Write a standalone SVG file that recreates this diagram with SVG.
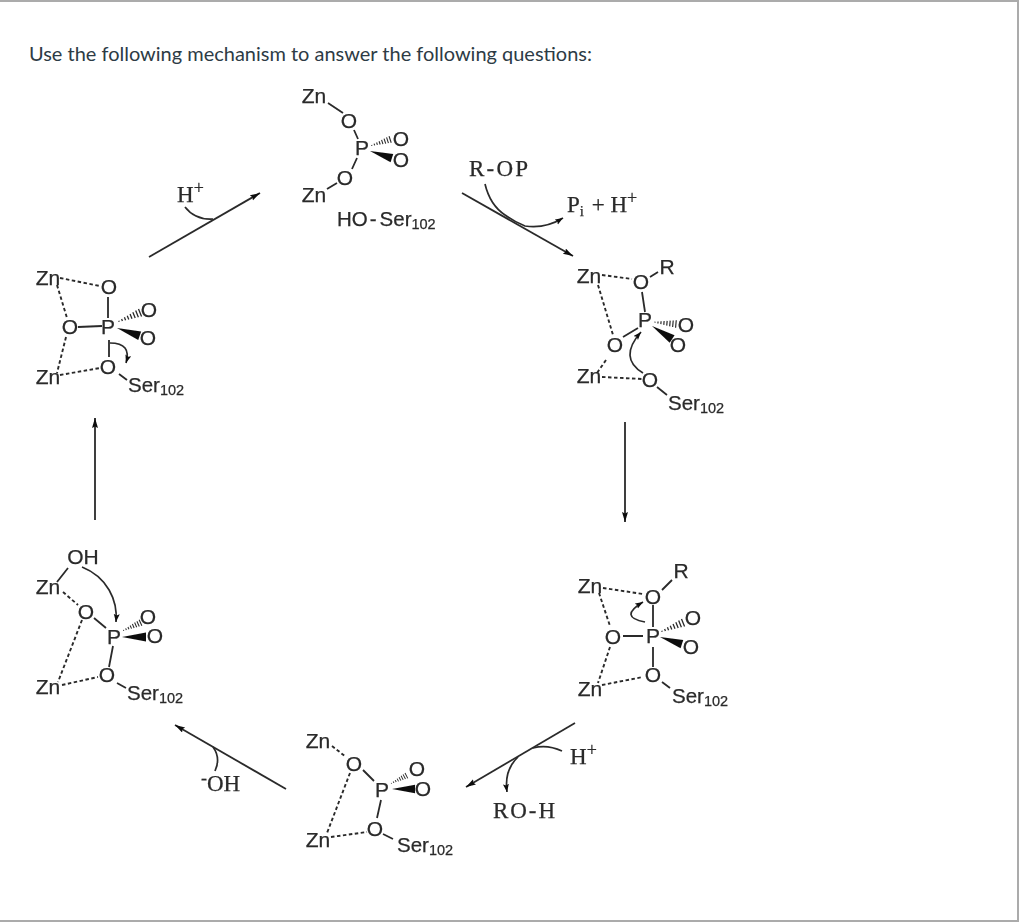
<svg xmlns="http://www.w3.org/2000/svg" width="1024" height="923" viewBox="0 0 1024 923">
<style>
.a{font:21px "Liberation Sans",Arial,sans-serif;fill:#2a2a2a;stroke:#2a2a2a;stroke-width:.25;text-anchor:middle}
.s{font:20.500px "Liberation Sans",Arial,sans-serif;fill:#2a2a2a;stroke:#2a2a2a;stroke-width:.25}
.s tspan.n{font-size:14.500px}
.r{font:23px "Liberation Serif","Times New Roman",serif;fill:#2a2a2a;stroke:#2a2a2a;stroke-width:.25}
.r tspan.u{font-size:18px}
.b{stroke:#2a2a2a;stroke-width:1.8;fill:none}
.d{stroke:#2a2a2a;stroke-width:1.9;fill:none;stroke-dasharray:3.5 2.5}
.c{stroke:#2a2a2a;stroke-width:1.7;fill:none}
.ca{stroke:#2a2a2a;stroke-width:1.7;fill:none;marker-end:url(#ch)}
.ar{stroke:#2a2a2a;stroke-width:1.8;fill:none;marker-end:url(#ah)}
.t{font:20px Lato,"Liberation Sans",sans-serif;fill:#2d3b45}
.soft{filter:url(#soft)}
</style>
<defs>
<filter id="soft" x="-5%" y="-5%" width="110%" height="110%"><feGaussianBlur stdDeviation="0.45"/></filter>
<marker id="ah" markerUnits="userSpaceOnUse" markerWidth="12" markerHeight="8" refX="10" refY="3" orient="auto"><path d="M0,0L10,3L0,6L1.500,3Z" fill="#111"/></marker>
<marker id="ch" markerUnits="userSpaceOnUse" markerWidth="10" markerHeight="8" refX="8" refY="3" orient="auto"><path d="M0,0L8,3L0,6L1.500,3Z" fill="#111"/></marker>
<g id="hash" stroke="#2a2a2a" stroke-width="1.200"><path d="M2,-.5V.5M5,-1V1M8,-1.400V1.400M11,-1.900V1.900M14,-2.400V2.400M17,-2.900V2.900M20,-3.300V3.300M23,-3.800V3.800"/></g>
<polygon id="wedge" points="0,0 24,-4.500 24,4.500" fill="#111"/>
</defs>
<rect width="1024" height="923" fill="#fff"/>
<path d="M0,1H1018V921H0" fill="none" stroke="#ababab" stroke-width="2"/>
<text class="t" x="29" y="61" textLength="563" lengthAdjust="spacingAndGlyphs">Use the following mechanism to answer the following questions:</text>

<g id="connectors" class="soft">
<path class="ar" d="M149,257L260,193"/>
<path class="c" d="M185,207Q195,220 213,219"/>
<path class="ar" d="M462,193L573,256"/>
<path class="ca" d="M485,184Q490,205 505,215Q515,222 525,226Q545,229 563,218"/>
<path class="ar" d="M625,422V522"/>
<path class="ar" d="M575,723L466,787"/>
<path class="c" d="M562,751Q547,744 533,748"/>
<path class="ca" d="M518,757Q504,770 507,792"/>
<path class="ar" d="M286,789L175,725"/>
<path class="c" d="M213,747Q221,758 215,771"/>
<path class="ar" d="M95,520V418"/>
</g>

<g id="reagent-h-plus-1" class="soft"><text class="r" x="177" y="202">H<tspan class="u" dy="-8">+</tspan></text></g>
<g id="reagent-r-op" class="soft"><text class="r" x="469" y="176" textLength="59">R-OP</text></g>
<g id="product-pi-h" class="soft"><text class="r" x="567" y="212">P<tspan dy="4" style="font-size:15px">i</tspan><tspan dy="-4" dx="2"> + H</tspan><tspan class="u" dy="-8">+</tspan></text></g>
<g id="reagent-h-plus-2" class="soft"><text class="r" x="570" y="764">H<tspan class="u" dy="-8">+</tspan></text></g>
<g id="product-ro-h" class="soft"><text class="r" x="493" y="818" textLength="62">RO-H</text></g>
<g id="reagent-oh" class="soft"><text class="r" x="201" y="791"><tspan class="u" dy="-7">-</tspan><tspan dy="7">OH</tspan></text></g>

<g id="mol-top" class="soft">
<path class="b" d="M328,103L343,113M354,130L358,139M357,158L352,169M337,183L327,189"/>
<use href="#hash" transform="translate(370,146) rotate(-18) scale(.92)"/>
<use href="#wedge" transform="translate(370,151) rotate(18) scale(.96)"/>
<text class="a" x="314" y="103">Zn</text><text class="a" x="349" y="128">O</text><text class="a" x="362" y="155">P</text>
<text class="a" x="401" y="146">O</text><text class="a" x="401" y="167">O</text><text class="a" x="345" y="185">O</text>
<text class="a" x="314" y="202">Zn</text>
<text class="s" x="337" y="226">HO<tspan dx="2">-</tspan><tspan dx="3">Ser</tspan><tspan class="n" dy="3">102</tspan></text>
</g>

<g id="mol-left-upper" class="soft">
<path class="d" d="M60,278L100,286M57,285L67,318M66,337L57,373M60,375L100,368"/>
<path class="b" d="M108,297V318M78,327L102,326M109,340V357M119,374L127,380"/>
<use href="#hash" transform="translate(117,322) rotate(-22) scale(1.08)"/>
<use href="#wedge" transform="translate(117,328) rotate(19)"/>
<path class="ca" d="M110,343Q132,343 126,363"/>
<text class="a" x="48" y="285">Zn</text><text class="a" x="109" y="294">O</text><text class="a" x="70" y="334">O</text>
<text class="a" x="108" y="334">P</text><text class="a" x="149" y="317">O</text><text class="a" x="148" y="345">O</text>
<text class="a" x="108" y="374">O</text><text class="a" x="48" y="384">Zn</text>
<text class="s" x="128" y="392">Ser<tspan class="n" dy="3">102</tspan></text>
</g>

<g id="mol-right-upper" class="soft">
<path class="d" d="M602,275L632,279M598,285L613,335M606,360L597,373M602,377L642,379"/>
<path class="b" d="M642,292L645,312M623,337L638,328M650,277L658,272M657,387L667,395"/>
<use href="#hash" transform="translate(653,322) rotate(5)"/>
<use href="#wedge" transform="translate(652,326) rotate(33)"/>
<path class="ca" d="M643,373Q618,358 641,332"/>
<text class="a" x="589" y="283">Zn</text><text class="a" x="641" y="289">O</text><text class="a" x="667" y="274">R</text>
<text class="a" x="645" y="327">P</text><text class="a" x="686" y="332">O</text><text class="a" x="678" y="352">O</text>
<text class="a" x="615" y="352">O</text><text class="a" x="589" y="383">Zn</text><text class="a" x="650" y="387">O</text>
<text class="s" x="668" y="410">Ser<tspan class="n" dy="3">102</tspan></text>
</g>

<g id="mol-right-lower" class="soft">
<path class="d" d="M603,588L643,594M599,593L610,626M610,647L598,683M602,685L643,677"/>
<path class="b" d="M662,590L672,580M653,605V627M623,636H643M653,647V667M662,682L670,688"/>
<use href="#hash" transform="translate(660,632) rotate(-22) scale(1.08)"/>
<use href="#wedge" transform="translate(660,637) rotate(18) scale(.96)"/>
<path class="ca" d="M645,622Q618,617 643,602"/>
<text class="a" x="590" y="593">Zn</text><text class="a" x="653" y="604">O</text><text class="a" x="681" y="578">R</text>
<text class="a" x="613" y="644">O</text><text class="a" x="653" y="643">P</text><text class="a" x="693" y="625">O</text>
<text class="a" x="691" y="654">O</text><text class="a" x="653" y="682">O</text><text class="a" x="590" y="696">Zn</text>
<text class="s" x="672" y="703">Ser<tspan class="n" dy="3">102</tspan></text>
</g>

<g id="mol-left-lower" class="soft">
<path class="b" d="M68,568L57,582M94,618L106,628M113,646L109,667M117,683L126,688"/>
<path class="d" d="M63,592L78,605M82,620L58,682M62,685L98,677"/>
<use href="#hash" transform="translate(122,631) rotate(-24) scale(.88)"/>
<use href="#wedge" transform="translate(122,637)"/>
<path class="ca" d="M82,567C107,577 118,600 116,622"/>
<text class="a" x="83" y="564">OH</text><text class="a" x="48" y="594">Zn</text><text class="a" x="86" y="619">O</text>
<text class="a" x="114" y="644">P</text><text class="a" x="148" y="624">O</text><text class="a" x="155" y="643">O</text>
<text class="a" x="107" y="682">O</text><text class="a" x="48" y="694">Zn</text>
<text class="s" x="127" y="700">Ser<tspan class="n" dy="3">102</tspan></text>
</g>

<g id="mol-bottom" class="soft">
<path class="d" d="M332,746L346,757M350,773L327,833M331,837L367,832"/>
<path class="b" d="M363,770L374,781M381,800L377,818M383,834L393,839"/>
<use href="#hash" transform="translate(390,784) rotate(-27) scale(.8)"/>
<use href="#wedge" transform="translate(392,789) scale(.96)"/>
<text class="a" x="318" y="748">Zn</text><text class="a" x="354" y="771">O</text><text class="a" x="382" y="797">P</text>
<text class="a" x="417" y="776">O</text><text class="a" x="423" y="796">O</text><text class="a" x="375" y="836">O</text>
<text class="a" x="318" y="847">Zn</text>
<text class="s" x="397" y="852">Ser<tspan class="n" dy="3">102</tspan></text>
</g>
</svg>
